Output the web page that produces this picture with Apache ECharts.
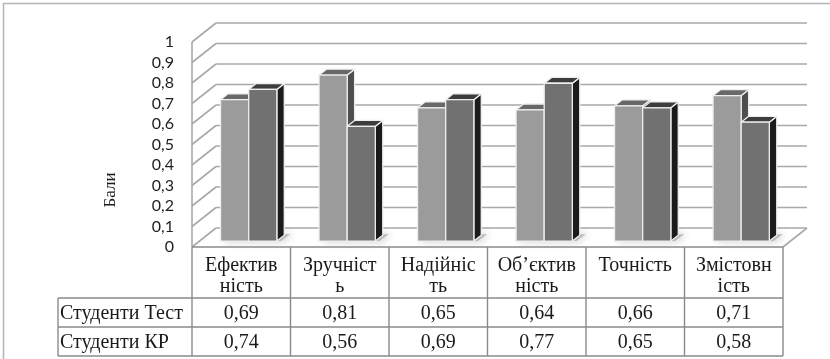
<!DOCTYPE html>
<html>
<head>
<meta charset="utf-8">
<script src="https://cdn.jsdelivr.net/npm/echarts@6/dist/echarts.min.js"></script>
<style>
  html, body { margin: 0; padding: 0; background: #ffffff; }
  #chart { width: 830px; height: 359px; }
</style>
</head>
<body>
<div id="chart"></div>
<script>
// Criteria (column headers of the data table, wrapped as printed)
const categories = ['Ефектив\nність', 'Зручніст\nь', 'Надійніс\nть', 'Об’єктив\nність', 'Точність', 'Змістовн\nість'];
const seriesNames = ['Студенти Тест', 'Студенти КР'];
const testScores = [0.69, 0.81, 0.65, 0.64, 0.66, 0.71];
const krScores = [0.74, 0.56, 0.69, 0.77, 0.65, 0.58];
const yTicks = [0, 0.1, 0.2, 0.3, 0.4, 0.5, 0.6, 0.7, 0.8, 0.9, 1];
const yAxisTitle = 'Бали';

// Pseudo-3D look: depth vector of the box, and where the columns sit inside it
const DEPTH = [24, -19];
const BAR_FRONT = 0.31;
const BAR_BACK = 0.62;
const WALL_COLOR = '#a9a9a9';
const TABLE_LINE = '#8a8a8a';
const TEXT_COLOR = '#1a1a1a';
const SERIF = 'Liberation Serif';

const barColors = [
  { front: '#9b9b9b', top: '#686868', side: '#4e4e4e' },
  { front: '#717171', top: '#3d3d3d', side: '#1b1b1b' }
];
const seriesValues = [testScores, krScores];

function fmt(v) {
  return String(Math.round(v * 100) / 100).replace('.', ',');
}

function seg(x1, y1, x2, y2, color, w) {
  return { type: 'line', shape: { x1: x1, y1: y1, x2: x2, y2: y2 },
           style: { stroke: color, lineWidth: w } };
}

function tableText(text, x, y, align, vAlign, extra) {
  return { type: 'text', style: Object.assign({ text: text, x: x, y: y, align: align, verticalAlign: vAlign,
    fontFamily: SERIF, fontSize: 20, fill: TEXT_COLOR, legacy: false }, extra || {}) };
}

// Back wall, left wall and floor outline
function renderWalls(params, api) {
  const cs = params.coordSys;
  const x0 = cs.x, x1 = cs.x + cs.width;
  const dx = DEPTH[0], dy = DEPTH[1];
  const children = [];
  yTicks.forEach(function (v) {
    const y = api.coord([0, v])[1];
    children.push(seg(x0, y, x0 + dx, y + dy, WALL_COLOR, 1.6));
    children.push(seg(x0 + dx, y + dy, x1 + dx, y + dy, WALL_COLOR, 1.6));
  });
  const yb = api.coord([0, 0])[1];
  const yt = api.coord([0, 1])[1];
  children.push(seg(x0, yt, x0, yb, WALL_COLOR, 1.6));
  children.push(seg(x1, yb, x1 + dx, yb + dy, WALL_COLOR, 1.6));
  return { type: 'group', children: children };
}

// Soft shadow on the floor under each pair of columns
function renderShade(params, api) {
  const cat = api.value(0);
  const band = api.size([1, 0])[0];
  const bw = band / 3.5;
  const c = api.coord([cat, 0]);
  const fx = DEPTH[0] * BAR_FRONT, fy = DEPTH[1] * BAR_FRONT;
  const bx = DEPTH[0] * BAR_BACK, by = DEPTH[1] * BAR_BACK;
  const l = c[0] - bw + fx, r = c[0] + bw + fx;
  return {
    type: 'polygon',
    shape: { points: [[l, c[1] + fy], [r + 4, c[1] + fy], [r + (bx - fx) + 6, c[1] + by - 1], [l + (bx - fx), c[1] + by - 1]] },
    style: { fill: 'rgba(150,150,150,0.55)', shadowBlur: 9, shadowColor: 'rgba(0,0,0,0.45)', shadowOffsetX: 2 }
  };
}

function makeBarRenderer(slot) {
  const col = barColors[slot];
  return function (params, api) {
    const cat = api.value(0);
    const val = api.value(1);
    const band = api.size([1, 0])[0];
    const bw = band / 3.5;
    const base = api.coord([cat, 0]);
    const head = api.coord([cat, val]);
    const fx = DEPTH[0] * BAR_FRONT, fy = DEPTH[1] * BAR_FRONT;
    const dX = DEPTH[0] * (BAR_BACK - BAR_FRONT), dY = DEPTH[1] * (BAR_BACK - BAR_FRONT);
    const left = base[0] - bw + slot * bw + fx;
    const right = left + bw;
    const bottom = base[1] + fy;
    const top = head[1] + fy;
    const edge = { stroke: '#eeeeee', lineWidth: 1.3, lineJoin: 'round' };
    return {
      type: 'group',
      children: [
        { type: 'polygon', shape: { points: [[right, top], [right + dX, top + dY], [right + dX, bottom + dY], [right, bottom]] },
          style: Object.assign({ fill: col.side }, edge) },
        { type: 'polygon', shape: { points: [[left, top], [left + dX, top + dY], [right + dX, top + dY], [right, top]] },
          style: Object.assign({ fill: col.top }, edge) },
        { type: 'polygon', shape: { points: [[left, top], [right, top], [right, bottom], [left, bottom]] },
          style: Object.assign({ fill: col.front }, edge) }
      ]
    };
  };
}

// Data table under the plot: headers, series names and values
function renderTable(params, api) {
  const cs = params.coordSys;
  const n = categories.length;
  const band = cs.width / n;
  const x0 = cs.x, x1 = cs.x + cs.width;
  const top = cs.y + cs.height;
  const headH = 51, rowH = 29;
  const labelLeft = 58;
  const rowsTop = top + headH;
  const bottom = rowsTop + rowH * seriesNames.length;
  const children = [];

  children.push(seg(x0, top, x1, top, TABLE_LINE, 1.4));
  for (let r = 0; r <= seriesNames.length; r++) {
    const y = rowsTop + r * rowH;
    children.push(seg(labelLeft, y, x1, y, TABLE_LINE, 1.4));
  }
  children.push(seg(labelLeft, rowsTop, labelLeft, bottom, TABLE_LINE, 1.4));
  for (let i = 0; i <= n; i++) {
    const x = x0 + i * band;
    children.push(seg(x, top, x, bottom, TABLE_LINE, 1.4));
  }
  categories.forEach(function (name, i) {
    const cx = x0 + (i + 0.5) * band;
    children.push(tableText(name, cx, top + 8, 'center', 'top', { lineHeight: 21 }));
    seriesValues.forEach(function (vals, s) {
      children.push(tableText(fmt(vals[i]), cx, rowsTop + (s + 0.5) * rowH + 1, 'center', 'middle'));
    });
  });
  seriesNames.forEach(function (name, s) {
    children.push(tableText(name, labelLeft + 2, rowsTop + (s + 0.5) * rowH + 1, 'left', 'middle'));
  });
  return { type: 'group', children: children };
}

const chart = echarts.init(document.getElementById('chart'), null, { renderer: 'canvas' });
chart.setOption({
  animation: false,
  backgroundColor: '#ffffff',
  grid: { left: 192, right: 47, top: 42, bottom: 112, containLabel: false },
  xAxis: {
    type: 'category',
    data: categories,
    axisLine: { show: false }, axisTick: { show: false }, axisLabel: { show: false }, splitLine: { show: false }
  },
  yAxis: {
    type: 'value', min: 0, max: 1, interval: 0.1,
    axisLine: { show: false }, axisTick: { show: false }, splitLine: { show: false },
    axisLabel: { margin: 18, color: '#1e1e1e', fontFamily: 'Lato', fontSize: 16, formatter: fmt }
  },
  graphic: [
    { type: 'rect', shape: { x: 3.5, y: 3.5, width: 900, height: 500 }, style: { fill: 'none', stroke: '#b5b5b5', lineWidth: 1.5 }, silent: true },
    { type: 'text', x: 111, y: 190, rotation: Math.PI / 2,
      style: { text: yAxisTitle, align: 'center', verticalAlign: 'middle', fontFamily: SERIF, fontSize: 17, fill: TEXT_COLOR }, silent: true }
  ],
  series: [
    { type: 'custom', name: 'walls', z: 1, silent: true, renderItem: renderWalls, data: [[0, 0]] },
    { type: 'custom', name: 'shade', z: 2, silent: true, renderItem: renderShade, data: testScores.map(function (v, i) { return [i, v]; }) },
    { type: 'custom', name: seriesNames[0], z: 3, renderItem: makeBarRenderer(0), data: testScores.map(function (v, i) { return [i, v]; }), encode: { x: 0, y: 1 } },
    { type: 'custom', name: seriesNames[1], z: 4, renderItem: makeBarRenderer(1), data: krScores.map(function (v, i) { return [i, v]; }), encode: { x: 0, y: 1 } },
    { type: 'custom', name: 'table', z: 5, silent: true, renderItem: renderTable, data: [[0, 0]] }
  ]
});
</script>
</body>
</html>
